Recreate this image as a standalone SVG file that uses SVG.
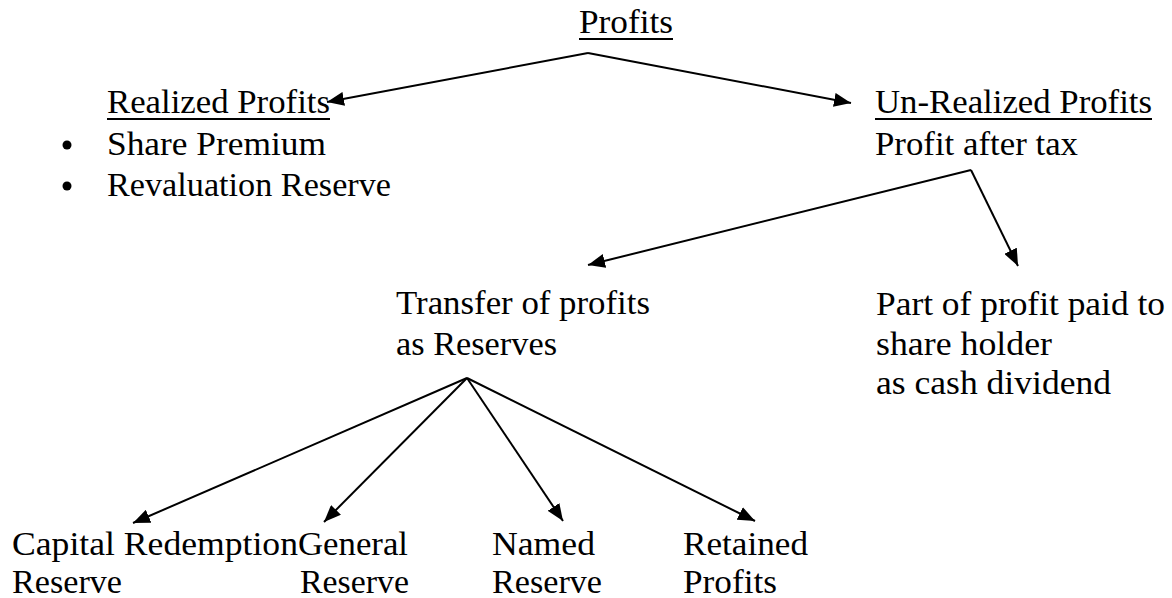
<svg xmlns="http://www.w3.org/2000/svg" width="1172" height="598" viewBox="0 0 1172 598">
<style>
text{font-family:"Liberation Serif","Times New Roman",serif;font-size:34px;fill:#000}
.c{stroke:#000;stroke-width:2;fill:none;marker-end:url(#ah)}
.u{stroke:#000;stroke-width:2}
</style>
<defs>
<marker id="ah" markerUnits="userSpaceOnUse" markerWidth="18" markerHeight="14" refX="17" refY="7" orient="auto">
<path d="M0,0 L17,7 L0,14 Z" fill="#000"/>
</marker>
</defs>
<rect width="1172" height="598" fill="#fff"/>
<g id="connectors">
<polyline class="c" points="588,53 327,102"/>
<polyline class="c" points="588,53 851,103"/>
<polyline class="c" points="971,170 588,265"/>
<polyline class="c" points="971,170 1018,266"/>
<polyline class="c" points="467,378 133,523"/>
<polyline class="c" points="467,378 324,522"/>
<polyline class="c" points="467,378 563,521"/>
<polyline class="c" points="467,378 755,521"/>
</g>
<g id="profits">
<text x="579" y="33" textLength="94" lengthAdjust="spacingAndGlyphs">Profits</text>
<line class="u" x1="579" y1="39" x2="673" y2="39"/>
</g>
<g id="realized">
<text x="107" y="113" textLength="223" lengthAdjust="spacingAndGlyphs">Realized Profits</text>
<line class="u" x1="107" y1="119" x2="330" y2="119"/>
<circle cx="67" cy="145" r="4.5"/>
<text x="107" y="155" textLength="219" lengthAdjust="spacingAndGlyphs">Share Premium</text>
<circle cx="67" cy="186" r="4.5"/>
<text x="107" y="196" textLength="284" lengthAdjust="spacingAndGlyphs">Revaluation Reserve</text>
</g>
<g id="unrealized">
<text x="875" y="113" textLength="277" lengthAdjust="spacingAndGlyphs">Un-Realized Profits</text>
<line class="u" x1="875" y1="119" x2="1152" y2="119"/>
<text x="875" y="155" textLength="203" lengthAdjust="spacingAndGlyphs">Profit after tax</text>
</g>
<g id="transfer">
<text x="396" y="314" textLength="254" lengthAdjust="spacingAndGlyphs">Transfer of profits</text>
<text x="396" y="355" textLength="161" lengthAdjust="spacingAndGlyphs">as Reserves</text>
</g>
<g id="dividend">
<text x="876" y="315" textLength="289" lengthAdjust="spacingAndGlyphs">Part of profit paid to</text>
<text x="876" y="355" textLength="176" lengthAdjust="spacingAndGlyphs">share holder</text>
<text x="876" y="394" textLength="235" lengthAdjust="spacingAndGlyphs">as cash dividend</text>
</g>
<g id="capital">
<text x="12" y="555" textLength="286" lengthAdjust="spacingAndGlyphs">Capital Redemption</text>
<text x="12" y="593" textLength="110" lengthAdjust="spacingAndGlyphs">Reserve</text>
</g>
<g id="general">
<text x="298" y="555" textLength="110" lengthAdjust="spacingAndGlyphs">General</text>
<text x="300" y="593" textLength="109" lengthAdjust="spacingAndGlyphs">Reserve</text>
</g>
<g id="named">
<text x="492" y="555" textLength="103" lengthAdjust="spacingAndGlyphs">Named</text>
<text x="492" y="593" textLength="110" lengthAdjust="spacingAndGlyphs">Reserve</text>
</g>
<g id="retained">
<text x="683" y="555" textLength="125" lengthAdjust="spacingAndGlyphs">Retained</text>
<text x="683" y="593" textLength="94" lengthAdjust="spacingAndGlyphs">Profits</text>
</g>
</svg>
